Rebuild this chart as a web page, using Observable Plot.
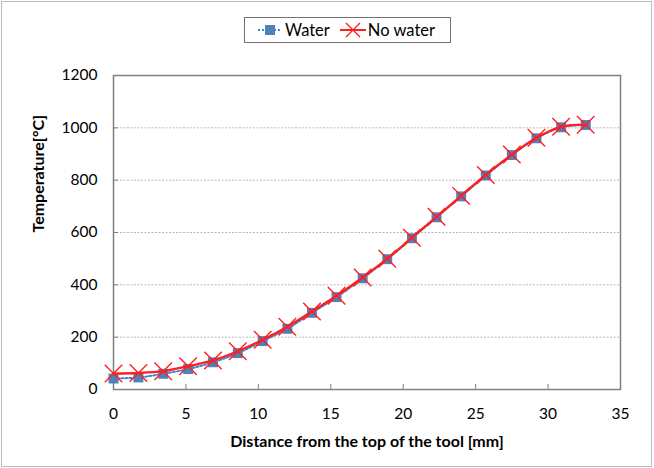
<!DOCTYPE html>
<html>
<head>
<meta charset="utf-8">
<script src="https://cdn.jsdelivr.net/npm/d3@7"></script>
<script src="https://cdn.jsdelivr.net/npm/@observablehq/plot@0.6"></script>
<style>
  html, body { margin: 0; padding: 0; background: #fff; }
  #wrap { position: relative; width: 654px; height: 468px; font-family: Lato, "Open Sans", sans-serif; }
  #outer { position: absolute; left: 1px; top: 1px; width: 649px; height: 464px; border: 1.5px solid #bcbcbc; pointer-events: none; }
  #legend { position: absolute; left: 244px; top: 17px; width: 205px; height: 24px; border: 1px solid #707070; background: #fff;
            display: flex; align-items: center; font-size: 16.5px; color: #000; }
  #legend .item { display: flex; align-items: center; }
  #legend svg { display: block; }
</style>
</head>
<body>
<div id="wrap">
  <div id="chart"></div>
  <div id="legend"></div>
  <div id="outer"></div>
</div>
<script>
// Data
const distance = [0, 1.72, 3.43, 5.15, 6.87, 8.58, 10.3, 12.0, 13.7, 15.4, 17.2, 18.9, 20.6, 22.3, 24.0, 25.7, 27.5, 29.2, 30.9, 32.6];
const water    = [42, 46, 60, 78, 104, 139, 185, 232, 293, 353, 425, 498, 578, 658, 738, 818, 896, 960, 1002, 1011];
const noWater  = [61, 63, 70, 89, 111, 146, 190, 240, 298, 358, 428, 500, 580, 660, 740, 820, 898, 962, 1004, 1012];
const xTicks = [0, 5, 10, 15, 20, 25, 30, 35];
const yTicks = [0, 200, 400, 600, 800, 1000, 1200];
const gridTicks = [200, 400, 600, 800, 1000];
const seriesNames = ["Water", "No water"];
const xTitle = "Distance from the top of the tool [mm]";
const yTitle = "Temperature[°C]";

const rows = distance.map((d, i) => ({x: d, water: water[i], noWater: noWater[i]}));

const BLUE_LINE = "#3b86d6";
const BLUE_FILL = "#4f81bd";
const RED = "#ff1f1f";

const chart = Plot.plot({
  width: 654,
  height: 468,
  marginLeft: 113,
  marginRight: 34,
  marginTop: 75,
  marginBottom: 79,
  style: {fontFamily: "Lato, 'Open Sans', sans-serif", color: "#000", background: "transparent"},
  x: {domain: [0, 35], label: null},
  y: {domain: [0, 1200], label: null},
  marks: [
    Plot.gridY(gridTicks, {stroke: "#b8b8b8", strokeOpacity: 1, strokeWidth: 1, strokeDasharray: "2,1.5"}),
    Plot.frame({stroke: "#7f7f7f", strokeWidth: 1.5}),
    Plot.axisX({ticks: xTicks, tickFormat: d => String(d), tickSize: -5, tickPadding: 23, fontSize: 15.5, stroke: "#7f7f7f", label: null}),
    Plot.axisY({ticks: yTicks, tickFormat: d => String(d), tickSize: -5, tickPadding: 21, fontSize: 15.5, stroke: "#7f7f7f", label: null}),
    Plot.line(rows, {x: "x", y: "water", stroke: BLUE_LINE, strokeWidth: 2, strokeDasharray: "2,2", curve: "catmull-rom"}),
    Plot.dot(rows, {x: "x", y: "water", symbol: "square", r: 5.6, fill: BLUE_FILL, stroke: "none"}),
    Plot.line(rows, {x: "x", y: "noWater", stroke: RED, strokeWidth: 2.3, curve: "catmull-rom"}),
    Plot.dot(rows, {x: "x", y: "noWater", symbol: "times", r: 8, stroke: RED, strokeWidth: 1.4}),
    Plot.text([xTitle], {frameAnchor: "bottom", dy: 52, fontSize: 16, fontWeight: "bold", fill: "#000", lineAnchor: "middle"}),
    Plot.text([yTitle], {frameAnchor: "left", dx: -75, rotate: -90, fontSize: 16, fontWeight: "bold", fill: "#000", lineAnchor: "middle"})
  ]
});
document.getElementById("chart").appendChild(chart);

// Legend
const legend = document.getElementById("legend");
function legendItem(name, kind, ml) {
  const item = document.createElement("div");
  item.className = "item";
  item.style.marginLeft = ml + "px";
  const s = d3.create("svg").attr("width", 26).attr("height", 20);
  if (kind === "water") {
    s.append("line").attr("x1", 1).attr("x2", 25).attr("y1", 10).attr("y2", 10)
      .attr("stroke", BLUE_LINE).attr("stroke-width", 2).attr("stroke-dasharray", "2,2");
    s.append("rect").attr("x", 8).attr("y", 5).attr("width", 10).attr("height", 10).attr("fill", BLUE_FILL);
  } else {
    s.append("line").attr("x1", 0).attr("x2", 26).attr("y1", 10).attr("y2", 10)
      .attr("stroke", RED).attr("stroke-width", 2);
    s.append("path").attr("d", "M6,3L20,17M20,3L6,17").attr("stroke", RED).attr("stroke-width", 1.4);
  }
  item.appendChild(s.node());
  const t = document.createElement("span");
  t.textContent = name;
  t.style.marginLeft = "2px";
  item.appendChild(t);
  legend.appendChild(item);
}
legendItem(seriesNames[0], "water", 12);
legendItem(seriesNames[1], "nowater", 10);
</script>
</body>
</html>
